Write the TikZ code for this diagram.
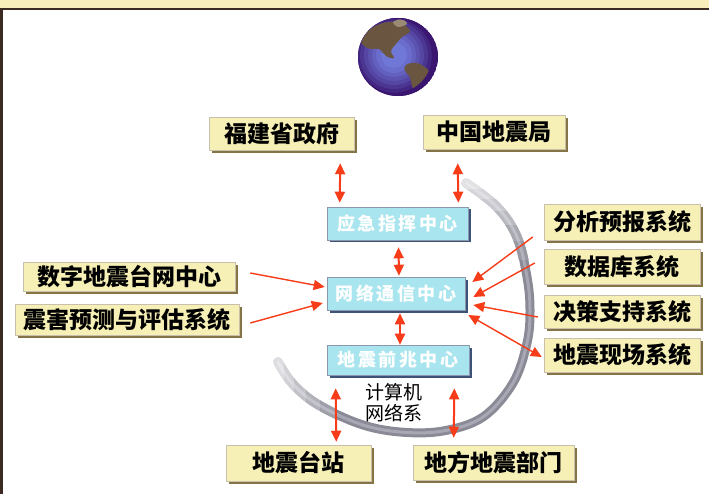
\documentclass[tikz,border=0pt]{standalone}
\usepackage{fontspec}
\newfontfamily\cjk{Noto Sans CJK SC}
\newfontfamily\cjkwide{Noto Sans CJK SC}[LetterSpace=14]
\usetikzlibrary{arrows.meta,calc}

\definecolor{strip}{HTML}{F7EEBB}
\definecolor{frame}{HTML}{3B2A22}
\definecolor{ybody}{HTML}{F6F0B6}
\definecolor{yshade}{HTML}{857446}
\definecolor{cbody}{HTML}{A9E5EE}
\definecolor{cshade}{HTML}{3C5276}
\definecolor{arrowred}{HTML}{F63C18}
\definecolor{ring}{HTML}{8A8A96}
\definecolor{ringlight}{HTML}{A8A8B4}
\definecolor{seablue}{HTML}{7480E0}
\definecolor{seadeep}{HTML}{3A1670}
\definecolor{land}{HTML}{6A5640}
\definecolor{landlight}{HTML}{9A8A74}

\newcommand\ringpath{plot[smooth, tension=0.6] coordinates {(466,183) (497,207) (517,237) (527,277) (530,310) (527,343) (513,383) (483,417) (443,431) (400,432) (360,424) (317,404) (292,383) (278,362)}}

\tikzset{
  ybox/.style={inner sep=0pt, fill=ybody, draw=yshade!45, line width=0.5pt,
    preaction={fill=yshade, transform canvas={xshift=3pt, yshift=-3pt}},
    font=\cjk\bfseries\fontsize{23}{23}\selectfont, text=black},
  cbox/.style={inner sep=0pt, fill=cbody, draw=cshade!60, line width=0.6pt,
    preaction={fill=cshade, transform canvas={xshift=2.5pt, yshift=-2.5pt}},
    font=\cjkwide\bfseries\fontsize{18}{18}\selectfont, text=white},
  arr/.style={draw=arrowred, line width=1.4pt, -{Triangle[length=11pt,width=10pt]}},
  darr/.style={draw=arrowred, line width=2pt,
    {Triangle[length=11pt,width=10pt]}-{Triangle[length=11pt,width=10pt]}},
  ringline/.style={line width=9pt, line cap=round},
  ringcore/.style={line width=3pt, line cap=round},
}

\begin{document}
\begin{tikzpicture}[x=1pt, y=-1pt]
\useasboundingbox (0,0) rectangle (709,494);

% top strip, page and frame
\fill[strip] (0,0) rectangle (709,9);
\fill[white] (0,9) rectangle (709,494);
\draw[frame, line width=2pt] (0,9) -- (709,9);
\draw[frame, line width=3pt] (1.5,9) -- (1.5,494);

% globe
\begin{scope}
  \clip (398,57) ellipse (40pt and 39pt);
  \foreach \r/\k in {44/0, 38/15, 34/30, 30/45, 26/58, 22/70, 18/82, 13/92}{
    \fill[seablue!\k!seadeep] (394,55) circle (\r pt);
  }
  \fill[land] plot[smooth cycle, tension=0.7] coordinates
    {(362,40) (372,28) (388,22) (402,24) (410,31) (402,37) (396,44) (391,51) (394,58) (386,56) (379,49) (371,49) (364,46)};
  \fill[land] plot[smooth cycle, tension=0.7] coordinates
    {(406,65) (416,63) (426,68) (430,76) (423,85) (416,92) (412,86) (410,77) (405,71)};
  \fill[landlight] plot[smooth cycle] coordinates {(393,22) (402,19) (407,24) (398,27)};
  \fill[seadeep, even odd rule] (398,57) ellipse (40pt and 39pt) (395,56) ellipse (37pt and 37pt);
\end{scope}

% network ring, fading out at both ends
\draw[ring, ringline] \ringpath;
\draw[ringlight, ringcore] \ringpath;
\foreach \ya/\yb/\k in {160/190/25, 190/200/35, 200/212/47, 212/226/60, 226/242/74, 242/260/88}{
  \begin{scope}
    \clip (430,\ya) rectangle (560,\yb);
    \draw[ring!\k!white, ringline, line width=9.6pt] \ringpath;
    \draw[ringlight!\k!white, ringcore] \ringpath;
  \end{scope}
}
\foreach \xa/\xb/\k in {250/284/28, 284/294/40, 294/306/53, 306/320/67, 320/336/82}{
  \begin{scope}
    \clip (\xa,330) rectangle (\xb,460);
    \draw[ring!\k!white, ringline, line width=9.6pt] \ringpath;
    \draw[ringlight!\k!white, ringcore] \ringpath;
  \end{scope}
}

% outer units
\node[ybox, minimum width=145pt, minimum height=33pt] (fj) at (281.5,133.5) {福建省政府};
\node[ybox, minimum width=142pt, minimum height=34pt] (zg) at (494,132) {中国地震局};
\node[ybox, minimum width=212pt, minimum height=29pt] (dz) at (129,276.5) {数字地震台网中心};
\node[ybox, minimum width=224pt, minimum height=31pt] (zh) at (127,319.5) {震害预测与评估系统};
\node[ybox, minimum width=156pt, minimum height=36pt] (fx) at (622,222) {分析预报系统};
\node[ybox, minimum width=156pt, minimum height=35pt] (sj) at (622,266.5) {数据库系统};
\node[ybox, minimum width=156pt, minimum height=33pt] (jc) at (622,311.5) {决策支持系统};
\node[ybox, minimum width=156pt, minimum height=34pt] (xc) at (622,355) {地震现场系统};
\node[ybox, minimum width=145pt, minimum height=36pt] (tz) at (298.5,463) {地震台站};
\node[ybox, minimum width=161pt, minimum height=35pt] (df) at (493.5,462.5) {地方地震部门};

% central centres
\node[cbox, minimum width=141pt, minimum height=33pt] (yj) at (397.5,223.5) {应急指挥中心};
\node[cbox, minimum width=138pt, minimum height=33pt] (wl) at (396,293.5) {网络通信中心};
\node[cbox, minimum width=142pt, minimum height=30pt] (qz) at (398,360) {地震前兆中心};

\node[font=\cjk\fontsize{19}{21}\selectfont, align=center, inner sep=0pt] (jsj) at (394,403) {计算机\\网络系};

% vertical links
\draw[darr] ($(fj.south east)+(-14pt,-13pt)$) -- ($(yj.north west)+(13pt,4pt)$);
\draw[darr] ($(zg.south west)+(35pt,-14pt)$) -- ($(yj.north east)+(-10pt,4pt)$);
\draw[darr] ($(yj.south)+(1pt,-7pt)$) -- ($(wl.north)+(3pt,1pt)$);
\draw[darr] ($(wl.south)+(4pt,-3pt)$) -- ($(qz.north)+(2pt,0pt)$);
\draw[darr] ($(qz.south west)+(9pt,-13pt)$) -- ($(tz.north east)+(-35pt,3pt)$);
\draw[darr] ($(qz.south east)+(-15pt,-13pt)$) -- ($(df.north west)+(41pt,7pt)$);

% links into the communication centre
\draw[arr] ($(dz.east)+(15pt,3.5pt)$) -- ($(wl.west)+(-2pt,6.5pt)$);
\draw[arr] ($(zh.east)+(11pt,-3.5pt)$) -- ($(wl.west)+(-4pt,-9.5pt)$);
\draw[arr] ($(fx.west)+(-11pt,-15pt)$) -- ($(wl.east)+(7pt,11.5pt)$);
\draw[arr] ($(sj.west)+(-9pt,3.5pt)$) -- ($(wl.east)+(8pt,-3.5pt)$);
\draw[arr] ($(jc.west)+(-6pt,-5.5pt)$) -- ($(wl.east)+(8pt,-11.5pt)$);
\draw[arr, {Triangle[length=11pt,width=10pt]}-{Triangle[length=11pt,width=10pt]}]
  ($(xc.west)+(-2pt,-2pt)$) -- ($(wl.east)+(3pt,-21.5pt)$);
\end{tikzpicture}
\end{document}
